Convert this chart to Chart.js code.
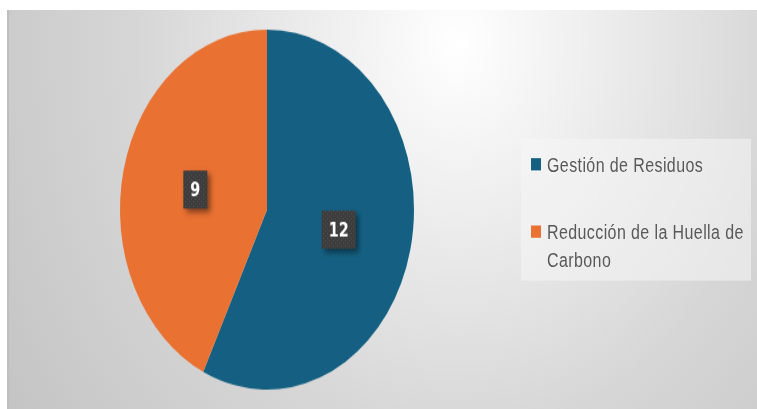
<!DOCTYPE html>
<html lang="es">
<head>
  <meta charset="UTF-8" />
  <title>Gestión de Residuos</title>
  <script src="https://cdn.jsdelivr.net/npm/chart.js"></script>
  <style>
    html, body { margin: 0; padding: 0; background: #fff; }
    /* the reference picture is stretched vertically, so the whole frame is too */
    #frame {
      position: absolute; left: 7px; top: 10px;
      width: 750px; height: 326px;
      transform: scaleY(1.2245); transform-origin: 0 0;
      background: radial-gradient(circle at 60% 8%, #ffffff 0%, #eeeeee 25%, #d6d6d6 60%, #c4c4c4 100%);
      border-left: 2px solid #bebebe; box-sizing: border-box;
      overflow: hidden;
    }
    #pie { position: absolute; left: 0; top: 0; }
    #legend {
      position: absolute; left: 512px; top: 105px; width: 230px; height: 116px;
      background: rgba(245,245,245,0.55);
      font-family: "Liberation Sans", Arial, sans-serif; font-size: 16px;
      letter-spacing: 0.4px; color: #595959;
    }
    .item { position: absolute; left: 10px; width: 212px; line-height: 23px; }
    .item i { position: absolute; left: 0; top: 6px; width: 10px; height: 10px; }
    .item span { display: block; margin-left: 16px; width: 200px; }
  </style>
</head>
<body>
  <div id="frame">
    <canvas id="pie" width="748" height="326"></canvas>
    <div id="legend"></div>
  </div>

  <script>
    const categorias = ['Gestión de Residuos', 'Reducción de la Huella de Carbono'];
    const valores = [12, 9];
    const colores = ['#156082', '#E97132'];

    // dotted dark fill for the value boxes
    const patCanvas = document.createElement('canvas');
    patCanvas.width = 4; patCanvas.height = 4;
    const pctx = patCanvas.getContext('2d');
    pctx.fillStyle = '#3d3d3d';
    pctx.fillRect(0, 0, 4, 4);
    pctx.fillStyle = '#4f4f4f';
    pctx.fillRect(0, 0, 1, 1);
    pctx.fillRect(2, 2, 1, 1);

    const etiquetas = {
      id: 'etiquetas',
      afterDatasetsDraw(chart) {
        const ctx = chart.ctx;
        const meta = chart.getDatasetMeta(0);
        ctx.save();
        ctx.font = 'bold 16px "Liberation Sans Narrow", "DejaVu Sans Condensed", Arial, sans-serif';
        ctx.textAlign = 'center';
        ctx.textBaseline = 'middle';
        meta.data.forEach((arc, i) => {
          const p = arc.tooltipPosition();
          const txt = String(valores[i]);
          const w = ctx.measureText(txt).width + 14;
          const h = 31;
          ctx.save();
          ctx.shadowColor = 'rgba(0,0,0,0.45)';
          ctx.shadowOffsetX = 3;
          ctx.shadowOffsetY = 3;
          ctx.shadowBlur = 5;
          ctx.fillStyle = ctx.createPattern(patCanvas, 'repeat');
          ctx.fillRect(p.x - w / 2, p.y - h / 2, w, h);
          ctx.restore();
          ctx.fillStyle = '#ffffff';
          ctx.fillText(txt, p.x, p.y + 1);
        });
        ctx.restore();
      }
    };

    new Chart(document.getElementById('pie'), {
      type: 'pie',
      data: {
        labels: categorias,
        datasets: [{
          data: valores,
          backgroundColor: colores,
          borderWidth: 0
        }]
      },
      options: {
        responsive: false,
        animation: false,
        layout: { padding: { left: 111, right: 343, top: 16, bottom: 16 } },
        plugins: {
          legend: { display: false },
          tooltip: { enabled: false }
        }
      },
      plugins: [etiquetas]
    });

    // legend
    const legend = document.getElementById('legend');
    const tops = [10, 65];
    categorias.forEach((c, i) => {
      const div = document.createElement('div');
      div.className = 'item';
      div.style.top = tops[i] + 'px';
      div.innerHTML = `<i style="background:${colores[i]}"></i><span>${c}</span>`;
      legend.appendChild(div);
    });
  </script>
</body>
</html>
